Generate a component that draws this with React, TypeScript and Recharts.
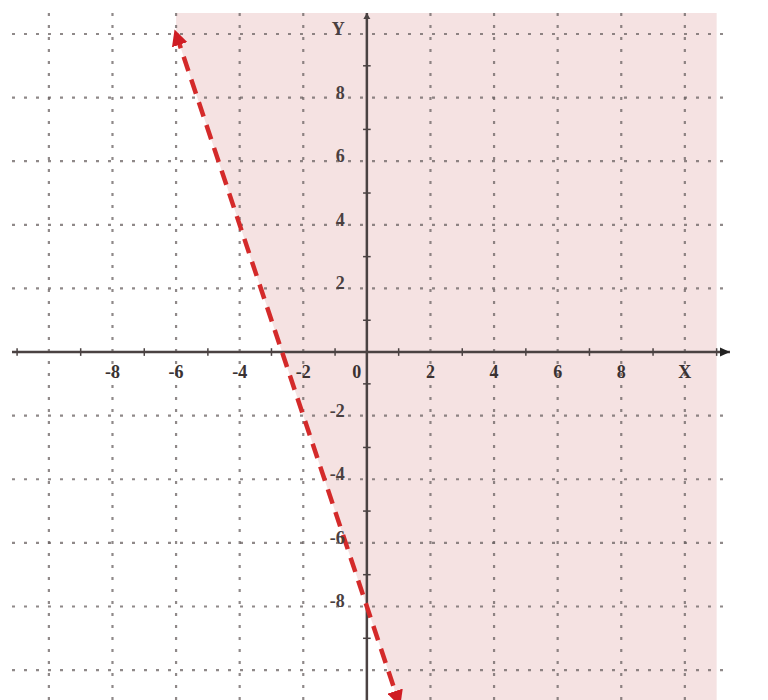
import React from "react";
import {
  ComposedChart,
  Area,
  Line,
  XAxis,
  YAxis,
  ReferenceLine,
  ReferenceDot,
} from "recharts";

// plot window
const X_DOMAIN = [-11.16, 11.42];
const Y_DOMAIN = [-10.94, 10.66];

const gridX = [-10, -8, -6, -4, -2, 2, 4, 6, 8, 10];
const gridY = [-10, -8, -6, -4, -2, 2, 4, 6, 8, 10];
const minorTicks = [-11, -9, -7, -5, -3, -1, 1, 3, 5, 7, 9, 11];

const xLabelValues = [-8, -6, -4, -2, 0, 2, 4, 6, 8, 10];
const xLabelTexts = ["-8", "-6", "-4", "-2", "0", "2", "4", "6", "8", "X"];
const yLabelValues = [10, 8, 6, 4, 2, -2, -4, -6, -8];
const yLabelTexts = ["Y", "8", "6", "4", "2", "-2", "-4", "-6", "-8"];

// dashed boundary y = -3x - 8
const boundaryX = [-6, 1];
const boundaryY = [10, -11];

// shaded half-plane (right of the boundary)
const shadeX = [-6, 1, 11];
const shadeLow = [10, -11, -11];
const shadeHigh = [10.66, 10.66, 10.66];

const boundaryData = boundaryX.map((x, i) => ({ x, y: boundaryY[i] }));
const shadeData = shadeX.map((x, i) => ({ x, band: [shadeLow[i], shadeHigh[i]] }));

const labelFont = '"Liberation Serif", "DejaVu Serif", serif';
const gridColor = "#6a6262";
const axisColor = "#4a4242";

export default function App() {
  return (
    <div style={{ position: "absolute", left: 0, top: 0, width: 768, height: 700, background: "#fff" }}>
      <svg width={0} height={0} style={{ position: "absolute" }}>
        <defs>
          <marker
            id="redArrow"
            viewBox="0 0 10 10"
            refX="7"
            refY="5"
            markerWidth="3.6"
            markerHeight="3.6"
            orient="auto-start-reverse"
          >
            <path d="M0,0 L10,5 L0,10 z" fill="#cf1d24" />
          </marker>
        </defs>
      </svg>
      <ComposedChart
        width={768}
        height={700}
        margin={{ top: 13, right: 38, bottom: 0, left: 12 }}
      >
        <XAxis type="number" dataKey="x" domain={X_DOMAIN} hide allowDataOverflow />
        <YAxis type="number" domain={Y_DOMAIN} hide allowDataOverflow />

        {/* shaded region */}
        <Area
          data={shadeData}
          dataKey="band"
          type="linear"
          stroke="none"
          fill="#f5e2e2"
          fillOpacity={1}
          isAnimationActive={false}
        />

        {/* dotted grid */}
        {gridX.map((v) => (
          <ReferenceLine
            key={"gx" + v}
            x={v}
            stroke={gridColor}
            strokeWidth={2.2}
            strokeDasharray="3 9"
            strokeOpacity={0.75}
          />
        ))}
        {gridY.map((v) => (
          <ReferenceLine
            key={"gy" + v}
            y={v}
            stroke={gridColor}
            strokeWidth={2.2}
            strokeDasharray="3 9"
            strokeOpacity={0.75}
          />
        ))}

        {/* axes */}
        <ReferenceLine x={0} stroke={axisColor} strokeWidth={2.5} />
        <ReferenceLine y={0} stroke={axisColor} strokeWidth={2.5} />
        {minorTicks.map((v) => (
          <ReferenceLine
            key={"mx" + v}
            segment={[{ x: v, y: -0.12 }, { x: v, y: 0.12 }]}
            stroke={axisColor}
            strokeWidth={1.5}
          />
        ))}
        {minorTicks.map((v) => (
          <ReferenceLine
            key={"my" + v}
            segment={[{ x: -0.12, y: v }, { x: 0.12, y: v }]}
            stroke={axisColor}
            strokeWidth={1.5}
          />
        ))}
        <ReferenceDot
          x={X_DOMAIN[1]}
          y={0}
          r={0}
          shape={(p: any) => (
            <path d={`M${p.cx},${p.cy} l-10,-4.5 l0,9 z`} fill="#222" />
          )}
        />
        <ReferenceDot
          x={0}
          y={Y_DOMAIN[1]}
          r={0}
          shape={(p: any) => (
            <path d={`M${p.cx},${p.cy} l-3.5,6 l7,0 z`} fill={axisColor} />
          )}
        />

        {/* tick labels */}
        {xLabelValues.map((v, i) => (
          <ReferenceDot
            key={"xl" + v}
            x={v}
            y={0}
            r={0}
            shape={(p: any) => (
              <text
                x={p.cx + (v === 0 ? -10 : 0)}
                y={p.cy + 20}
                textAnchor="middle"
                dominantBaseline="central"
                fontFamily={labelFont}
                fontSize={18}
                fontWeight="bold"
                fill="#3a3232"
              >
                {xLabelTexts[i]}
              </text>
            )}
          />
        ))}
        {yLabelValues.map((v, i) => (
          <ReferenceDot
            key={"yl" + v}
            x={0}
            y={v}
            r={0}
            shape={(p: any) => (
              <text
                x={p.cx - 22}
                y={p.cy - 5}
                textAnchor="end"
                dominantBaseline="central"
                fontFamily={labelFont}
                fontSize={18}
                fontWeight="bold"
                fill="#4a4040"
              >
                {yLabelTexts[i]}
              </text>
            )}
          />
        ))}

        {/* boundary line */}
        <Line
          data={boundaryData}
          dataKey="y"
          type="linear"
          stroke="#d42a2a"
          strokeWidth={4.5}
          strokeDasharray="15 9"
          dot={false}
          activeDot={false}
          markerStart="url(#redArrow)"
          markerEnd="url(#redArrow)"
          isAnimationActive={false}
        />
      </ComposedChart>
    </div>
  );
}
